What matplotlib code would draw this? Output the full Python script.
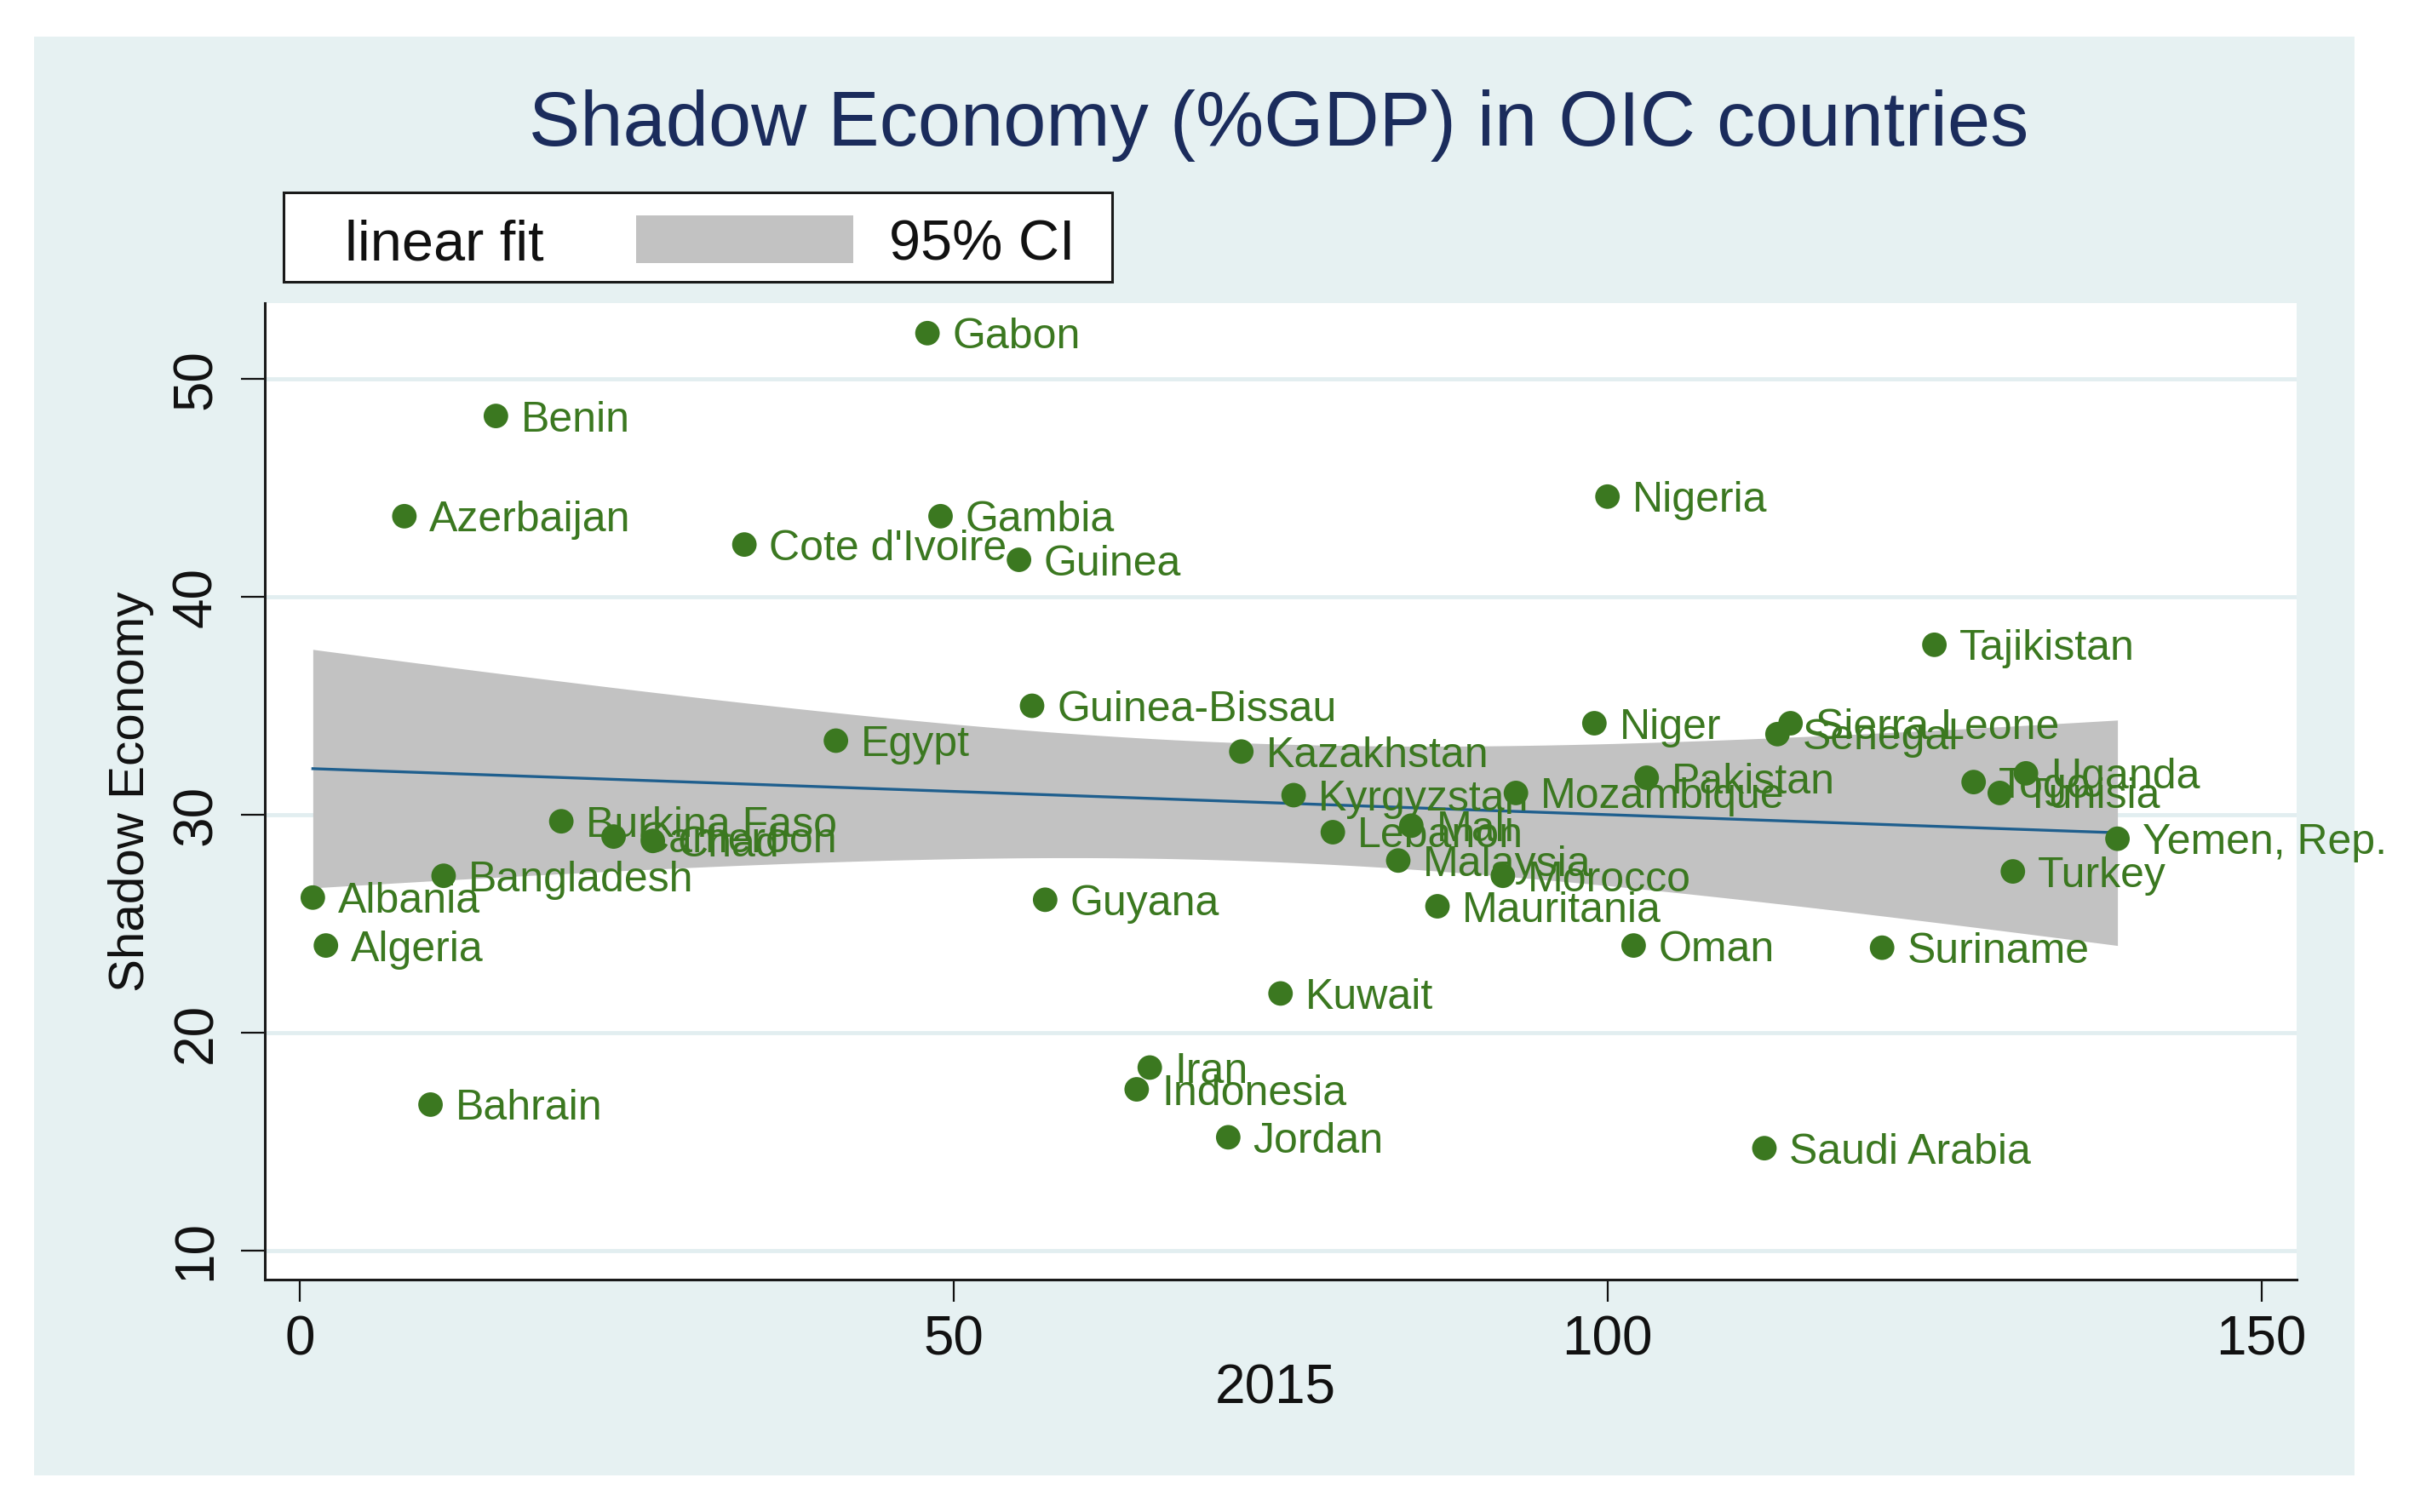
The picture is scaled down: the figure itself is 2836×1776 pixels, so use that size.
import numpy as np
import matplotlib
matplotlib.use("Agg")
import matplotlib.pyplot as plt
from matplotlib.patches import Rectangle

# ---------------- data ----------------
countries = ["Albania", "Algeria", "Azerbaijan", "Bahrain", "Bangladesh", "Benin",
             "Burkina Faso", "Cameroon", "Chad", "Cote d'Ivoire", "Egypt", "Gabon",
             "Gambia", "Guinea", "Guinea-Bissau", "Guyana", "Indonesia", "Iran",
             "Jordan", "Kazakhstan", "Kuwait", "Kyrgyzstan", "Lebanon", "Malaysia",
             "Mali", "Mauritania", "Morocco", "Mozambique", "Niger", "Nigeria",
             "Oman", "Pakistan", "Saudi Arabia", "Senegal", "Sierra Leone",
             "Suriname", "Tajikistan", "Togo", "Tunisia", "Turkey", "Uganda",
             "Yemen, Rep."]
x2015 = [1, 2, 8, 10, 11, 15,
         20, 24, 27, 34, 41, 48,
         49, 55, 56, 57, 64, 65,
         71, 72, 75, 76, 79, 84,
         85, 87, 92, 93, 99, 100,
         102, 103, 112, 113, 114,
         121, 125, 128, 130, 131, 132,
         139]
shadow = [26.2, 24.0, 43.7, 16.7, 27.2, 48.3,
          29.7, 29.0, 28.8, 42.4, 33.4, 52.1,
          43.7, 41.7, 35.0, 26.1, 17.4, 18.4,
          15.2, 32.9, 21.8, 30.9, 29.2, 27.9,
          29.5, 25.8, 27.2, 31.0, 34.2, 44.6,
          24.0, 31.7, 14.7, 33.7, 34.2,
          23.9, 37.8, 31.5, 31.0, 27.4, 31.9,
          28.9]
x_ticks = [0, 50, 100, 150]
y_ticks = [10, 20, 30, 40, 50]
title_text = "Shadow Economy (%GDP) in OIC countries"
x_label = "2015"
y_label = "Shadow Economy"
legend_labels = ["linear fit", "95% CI"]
T_CRIT_95 = 2.021  # t quantile, df = n - 2 = 40

# ---------------- style ----------------
FONT = ["Liberation Sans", "DejaVu Sans"]
plt.rcParams["font.family"] = FONT
GREEN = "#3b7820"
NAVY = "#1b2c5c"
FIT = "#1f5f8e"
CI = "#c2c2c2"
PANEL = "#e6f1f2"
GRID = "#e2eef0"

W, H = 2836, 1776
fig = plt.figure(figsize=(W / 100, H / 100), dpi=100, facecolor="white")

# outer light panel (Stata graph region)
fig.patches.append(Rectangle((40 / W, 1 - 1733 / H), 2725 / W, 1690 / H,
                             transform=fig.transFigure, facecolor=PANEL,
                             edgecolor="none", zorder=-10))

ax = fig.add_axes([311 / W, 1 - 1503 / H, (2697 - 311) / W, (1503 - 356) / H])
ax.set_zorder(1)
ax.set_facecolor("white")

x = np.array(x2015, dtype=float)
y = np.array(shadow, dtype=float)

# linear fit with 95% CI of the mean prediction
n = len(x)
b1, b0 = np.polyfit(x, y, 1)
resid = y - (b0 + b1 * x)
s = np.sqrt(np.sum(resid ** 2) / (n - 2))
xbar = x.mean()
sxx = np.sum((x - xbar) ** 2)
xs = np.linspace(x.min(), x.max(), 300)
fit = b0 + b1 * xs
se = s * np.sqrt(1.0 / n + (xs - xbar) ** 2 / sxx)

for yt in y_ticks:
    ax.axhline(yt, color=GRID, lw=3.5, zorder=0.5)

ax.fill_between(xs, fit - T_CRIT_95 * se, fit + T_CRIT_95 * se, color=CI,
                lw=0, zorder=1)
ax.plot(xs, fit, color=FIT, lw=2.4, zorder=2)

ax.scatter(x, y, s=430, color=GREEN, edgecolors="none", zorder=3)
for name, xi, yi in zip(countries, x, y):
    ax.annotate(name, (xi, yi), xytext=(21, 0), textcoords="offset points",
                ha="left", va="center_baseline", fontsize=36, color=GREEN,
                zorder=4, annotation_clip=False)

ax.set_xlim(-2.67, 152.7)
ax.set_ylim(8.67, 53.48)
ax.set_xticks(x_ticks)
ax.set_yticks(y_ticks)
ax.set_xticklabels([str(t) for t in x_ticks])
ax.set_yticklabels([str(t) for t in y_ticks], rotation=90, va="center")

for side in ["top", "right"]:
    ax.spines[side].set_visible(False)
for side in ["left", "bottom"]:
    ax.spines[side].set_linewidth(2.2)
    ax.spines[side].set_color("#1a1a1a")

ax.tick_params(axis="x", direction="out", length=19, width=1.6, pad=11,
               labelsize=46, colors="#111111")
ax.tick_params(axis="y", direction="out", length=20, width=1.6, pad=16,
               labelsize=46, colors="#111111")

ax.set_xlabel(x_label, fontsize=46, color="#111111")
ax.xaxis.set_label_coords(0.4975, -0.086)
ax.set_ylabel(y_label, fontsize=42, color="#111111")
ax.yaxis.set_label_coords(-0.0545, 0.5)

# title
fig.text(1502 / W, 1 - 147 / H, title_text, ha="center", va="center",
         fontsize=65, color=NAVY)

# legend box (drawn manually in Stata layout)
fig.patches.append(Rectangle((333 / W, 1 - 331 / H), 973 / W, 105 / H,
                             transform=fig.transFigure, facecolor="white",
                             edgecolor="#1a1a1a", lw=2.2, zorder=2))
fig.patches.append(Rectangle((747 / W, 1 - 309 / H), 255 / W, 56 / H,
                             transform=fig.transFigure, facecolor=CI,
                             edgecolor="none", zorder=3))
fig.text(405 / W, 1 - 281 / H, legend_labels[0], ha="left", va="center_baseline",
         fontsize=48, color="#111111")
fig.text(1044 / W, 1 - 281 / H, legend_labels[1], ha="left", va="center_baseline",
         fontsize=48, color="#111111")

fig.savefig("out.png", dpi=100, facecolor="white")
